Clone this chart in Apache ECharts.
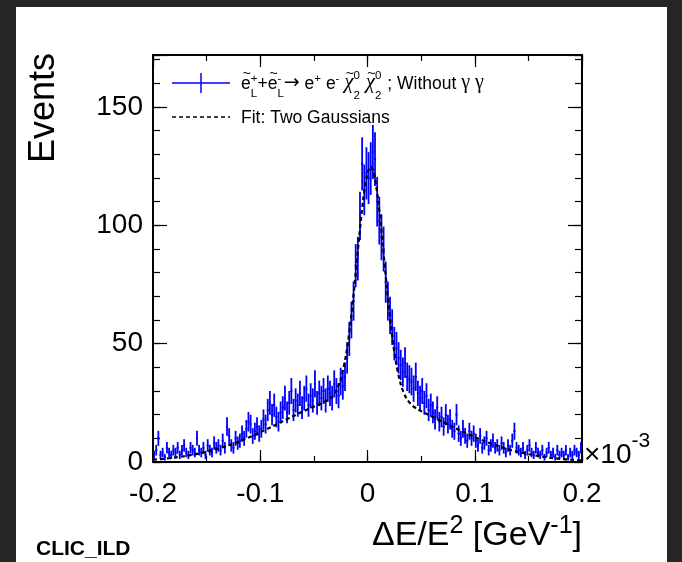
<!DOCTYPE html>
<html>
<head>
<meta charset="utf-8">
<script src="https://cdn.jsdelivr.net/npm/echarts@6/dist/echarts.min.js"></script>
<style>
  html, body { margin: 0; padding: 0; background: #262626; }
  #chart { position: absolute; left: 0; top: 0; width: 682px; height: 562px; }
</style>
</head>
<body>
<div id="chart"></div>
<script>
// Histogram binning (x in units of 1e-3 GeV^-1)
const binLow = -0.2;
const binWidth = 0.002;

// Event counts per bin, 200 bins from -0.2 to 0.2
const counts = [
  3, 5, 10, 3, 4, 2, 6, 4, 3, 5,
  4, 6, 3, 5, 7, 4, 3, 6, 5, 4,
  10, 5, 4, 6, 3, 7, 5, 4, 8, 6,
  7, 5, 9, 6, 15, 11, 7, 6, 10, 8,
  9, 12, 10, 14, 17, 16, 11, 13, 15, 12,
  14, 18, 16, 22, 25, 20, 24, 19, 17, 21,
  23, 27, 21, 25, 30, 22, 26, 24, 29, 23,
  27, 31, 24, 28, 26, 33, 25, 29, 27, 30,
  26, 31, 29, 27, 33, 30, 28, 34, 32, 36,
  44, 52, 60, 68, 83, 86, 104, 126, 115, 122,
  120, 124, 131, 128, 110, 102, 95, 90, 76, 68,
  62, 57, 50, 48, 44, 41, 38, 42, 36, 35,
  34, 31, 36, 29, 27, 30, 25, 28, 22, 24,
  21, 18, 23, 17, 19, 15, 20, 16, 18, 14,
  13, 20, 12, 10, 14, 11, 9, 13, 10, 12,
  9, 7, 11, 6, 8, 10, 5, 7, 9, 6,
  7, 5, 8, 6, 4, 7, 5, 9, 13, 6,
  5, 4, 6, 3, 5, 7, 4, 3, 6, 4,
  3, 5, 2, 4, 6, 3, 4, 2, 5, 3,
  4, 3, 5, 2, 4, 3, 5, 4, 3, 6
];

// Two-Gaussian fit curve, sampled points
const fitX = [-0.2, -0.19, -0.18, -0.17, -0.16, -0.15, -0.14, -0.13, -0.12, -0.11,
  -0.1, -0.09, -0.08, -0.07, -0.06, -0.05, -0.045, -0.04, -0.035, -0.03,
  -0.025, -0.02, -0.016, -0.012, -0.008, -0.004, 0, 0.003, 0.006, 0.01,
  0.014, 0.018, 0.022, 0.026, 0.031, 0.036, 0.041, 0.046, 0.051, 0.06,
  0.07, 0.08, 0.09, 0.1, 0.11, 0.12, 0.13, 0.14, 0.15, 0.16,
  0.17, 0.18, 0.19, 0.2];
const fitY = [0.95, 1.34, 1.84, 2.49, 3.3, 4.32, 5.54, 6.98, 8.64, 10.5,
  12.55, 14.73, 16.98, 19.24, 21.4, 23.4, 24.35, 25.4, 26.8, 29.5,
  34.9, 45.3, 58.3, 75.1, 93.9, 110.9, 122.1, 124.8, 121.9, 110.3,
  93.0, 73.9, 56.8, 43.6, 32.85, 27.1, 24.2, 22.5, 21.25, 19.24,
  16.98, 14.73, 12.55, 10.5, 8.64, 6.98, 5.54, 4.32, 3.3, 2.49,
  1.84, 1.34, 0.95, 0.66];

// Axis ranges and tick steps
const xRange = [-0.2, 0.2];
const xMajor = 0.1, xMinor = 0.05;
const yRange = [0, 172];
const yMajor = 50, yMinor = 10;

const SANS = 'Liberation Sans';
const SERIF = 'Liberation Serif';
const DEJAVU = 'DejaVu Sans';
const BLUE = '#0000ff';

const mctx = document.createElement('canvas').getContext('2d');
function textWidth(t, size, fam, style) {
  mctx.font = (style || 'normal') + ' ' + size + 'px "' + fam + '"';
  return mctx.measureText(t).width;
}

// Lays out a run of text pieces (with super/subscripts) on one baseline
function formula(x0, baseline, pieces, opts) {
  const base = opts.size, small = opts.small, color = opts.color || '#000';
  const items = pieces.map(p => {
    if (p.t !== undefined) {
      const size = p.size || base, fam = p.fam || SANS, st = p.italic ? 'italic' : 'normal';
      return Object.assign({}, p, { size, fam, st, w: textWidth(p.t, size, fam, st) });
    }
    const ws = p.sup ? textWidth(p.sup, small, SANS) : 0;
    const wb = p.sub ? textWidth(p.sub, small, SANS) : 0;
    return Object.assign({}, p, { w: Math.max(ws, wb) + (p.pad || 0) });
  });
  const total = items.reduce((s, it) => s + it.w, 0);
  let x = opts.align === 'right' ? x0 - total : x0;
  const out = [];
  const put = (t, size, fam, st, px, by) => out.push({
    type: 'text', x: px, y: by - 0.35 * size, z: 100, silent: true,
    style: { text: t, fontSize: size, fontFamily: fam, fontStyle: st, fill: color, align: 'left', verticalAlign: 'middle' }
  });
  items.forEach(it => {
    if (it.t !== undefined) {
      put(it.t, it.size, it.fam, it.st, x, baseline + (it.dy || 0));
      if (it.tilde) {
        out.push({
          type: 'text', x: x + it.w / 2 + 1, y: baseline - opts.tildeRise, z: 100, silent: true,
          style: { text: '~', fontSize: opts.tildeSize, fontFamily: SANS, fill: color, align: 'center', verticalAlign: 'middle' }
        });
      }
    } else {
      if (it.sup) put(it.sup, small, SANS, 'normal', x, baseline + it.supDy);
      if (it.sub) put(it.sub, small, SANS, 'normal', x, baseline + it.subDy);
    }
    x += it.w;
  });
  return out;
}

const fmtX = v => { const s = Math.round(v * 10) / 10; return s === 0 ? '0' : String(s); };
const fmtY = v => (Math.abs(v % yMajor) < 1e-6 ? String(Math.round(v)) : '');

function xAxis(position, interval, tickLen, withLabels, withLine) {
  return {
    type: 'value', position, min: xRange[0], max: xRange[1], interval,
    axisLine: { show: withLine, onZero: false, lineStyle: { color: '#000', width: 2 } },
    axisTick: { show: true, inside: true, length: tickLen, lineStyle: { color: '#000', width: 1.2 } },
    axisLabel: { show: withLabels, formatter: fmtX, fontSize: 28, fontFamily: SANS, color: '#000', margin: 18 },
    splitLine: { show: false }
  };
}
function yAxis(position, interval, tickLen, withLabels, withLine) {
  return {
    type: 'value', position, min: yRange[0], max: yRange[1], interval,
    axisLine: { show: withLine, onZero: false, lineStyle: { color: '#000', width: 2 } },
    axisTick: { show: true, inside: true, length: tickLen, lineStyle: { color: '#000', width: 1.2 } },
    axisLabel: { show: withLabels, formatter: fmtY, fontSize: 28, fontFamily: SANS, color: '#000', margin: 10 },
    splitLine: { show: false }
  };
}

const histData = counts.map((c, i) => [binLow + (i + 0.5) * binWidth, c, Math.sqrt(c)]);
const fitData = fitX.map((x, i) => [x, fitY[i]]);

const legendText1 = [
  { t: 'e', tilde: true },
  { sup: '+', sub: 'L', supDy: -7, subDy: 8 },
  { t: '+' },
  { t: 'e', tilde: true },
  { sup: '-', sub: 'L', supDy: -7, subDy: 8 },
  { t: '\u2192', fam: DEJAVU, size: 19 },
  { t: ' e' },
  { sup: '+', supDy: -7 },
  { t: ' e' },
  { sup: '-', supDy: -7 },
  { t: ' ' },
  { t: '\u03c7', fam: SERIF, size: 21, italic: true, tilde: true },
  { sup: '0', sub: '2', supDy: -10, subDy: 10, pad: 1 },
  { t: ' ' },
  { t: '\u03c7', fam: SERIF, size: 21, italic: true, tilde: true },
  { sup: '0', sub: '2', supDy: -10, subDy: 10, pad: 1 },
  { t: ' ; Without ' },
  { t: '\u03b3', fam: SERIF, size: 20 },
  { t: ' ' },
  { t: '\u03b3', fam: SERIF, size: 20 }
];
const legendText2 = [{ t: 'Fit: Two Gaussians' }];
const xTitle = [
  { t: '\u0394E/E' },
  { sup: '2', supDy: -13 },
  { t: ' [GeV' },
  { sup: '-1', supDy: -13 },
  { t: ']' }
];
const xExponent = [{ t: '\u00d710' }, { sup: '-3', supDy: -16 }];

const graphic = [
  { type: 'rect', z: -100, silent: true, shape: { x: 16, y: 7, width: 651, height: 555 }, style: { fill: '#ffffff' } },
  // legend: data entry marker
  { type: 'line', z: 100, silent: true, shape: { x1: 172, y1: 83, x2: 230, y2: 83 }, style: { stroke: BLUE, lineWidth: 1.5 } },
  { type: 'line', z: 100, silent: true, shape: { x1: 201, y1: 73, x2: 201, y2: 93 }, style: { stroke: BLUE, lineWidth: 1.5 } },
  // legend: fit entry marker
  { type: 'line', z: 100, silent: true, shape: { x1: 172, y1: 117, x2: 230, y2: 117 }, style: { stroke: '#000', lineWidth: 1.5, lineDash: [4, 3] } },
  {
    type: 'text', x: 44, y: 53, rotation: Math.PI / 2, z: 100, silent: true,
    style: { text: 'Events', fontSize: 36, fontFamily: SANS, fill: '#000', align: 'right', verticalAlign: 'middle' }
  },
  {
    type: 'text', x: 36, y: 549, z: 100, silent: true,
    style: { text: 'CLIC_ILD', fontSize: 21, fontWeight: 'bold', fontFamily: SANS, fill: '#000', align: 'left', verticalAlign: 'middle' }
  }
]
  .concat(formula(241, 90, legendText1, { size: 17.5, small: 11.5, tildeSize: 14, tildeRise: 16 }))
  .concat(formula(241, 124, legendText2, { size: 17.5, small: 11.5 }))
  .concat(formula(582, 548, xTitle, { size: 34, small: 25, align: 'right' }))
  .concat(formula(584, 465, xExponent, { size: 28, small: 21 }));

const chart = echarts.init(document.getElementById('chart'), null, { renderer: 'canvas' });
chart.setOption({
  backgroundColor: '#262626',
  animation: false,
  grid: { left: 153, top: 55, width: 429, height: 407, containLabel: false, outerBoundsMode: 'none' },
  xAxis: [
    xAxis('bottom', xMajor, 12, true, true),
    xAxis('bottom', xMinor, 6, false, false),
    xAxis('top', xMajor, 12, false, true),
    xAxis('top', xMinor, 6, false, false)
  ],
  yAxis: [
    yAxis('left', yMajor, 14, true, true),
    yAxis('left', yMinor, 7, false, false),
    yAxis('right', yMajor, 14, false, true),
    yAxis('right', yMinor, 7, false, false)
  ],
  series: [
    {
      name: 'data', type: 'custom', xAxisIndex: 0, yAxisIndex: 0, clip: true, z: 3,
      data: histData, encode: { x: 0, y: 1 },
      renderItem(params, api) {
        const x = api.value(0), y = api.value(1), e = api.value(2);
        const top = api.coord([x, y + e]);
        const bot = api.coord([x, Math.max(0, y - e)]);
        const l = api.coord([x - binWidth / 2, y]);
        const r = api.coord([x + binWidth / 2, y]);
        return {
          type: 'group',
          children: [
            { type: 'line', shape: { x1: top[0], y1: top[1], x2: bot[0], y2: bot[1] }, style: { stroke: BLUE, lineWidth: 1.8 } },
            { type: 'line', shape: { x1: l[0], y1: l[1], x2: r[0], y2: r[1] }, style: { stroke: BLUE, lineWidth: 1.8 } }
          ]
        };
      }
    },
    {
      name: 'fit', type: 'line', xAxisIndex: 0, yAxisIndex: 0, z: 4,
      data: fitData, smooth: 0.3, showSymbol: false, symbol: 'none', clip: true,
      lineStyle: { color: '#000', width: 2.2, type: [4, 3] }
    }
  ],
  graphic
});
</script>
</body>
</html>
